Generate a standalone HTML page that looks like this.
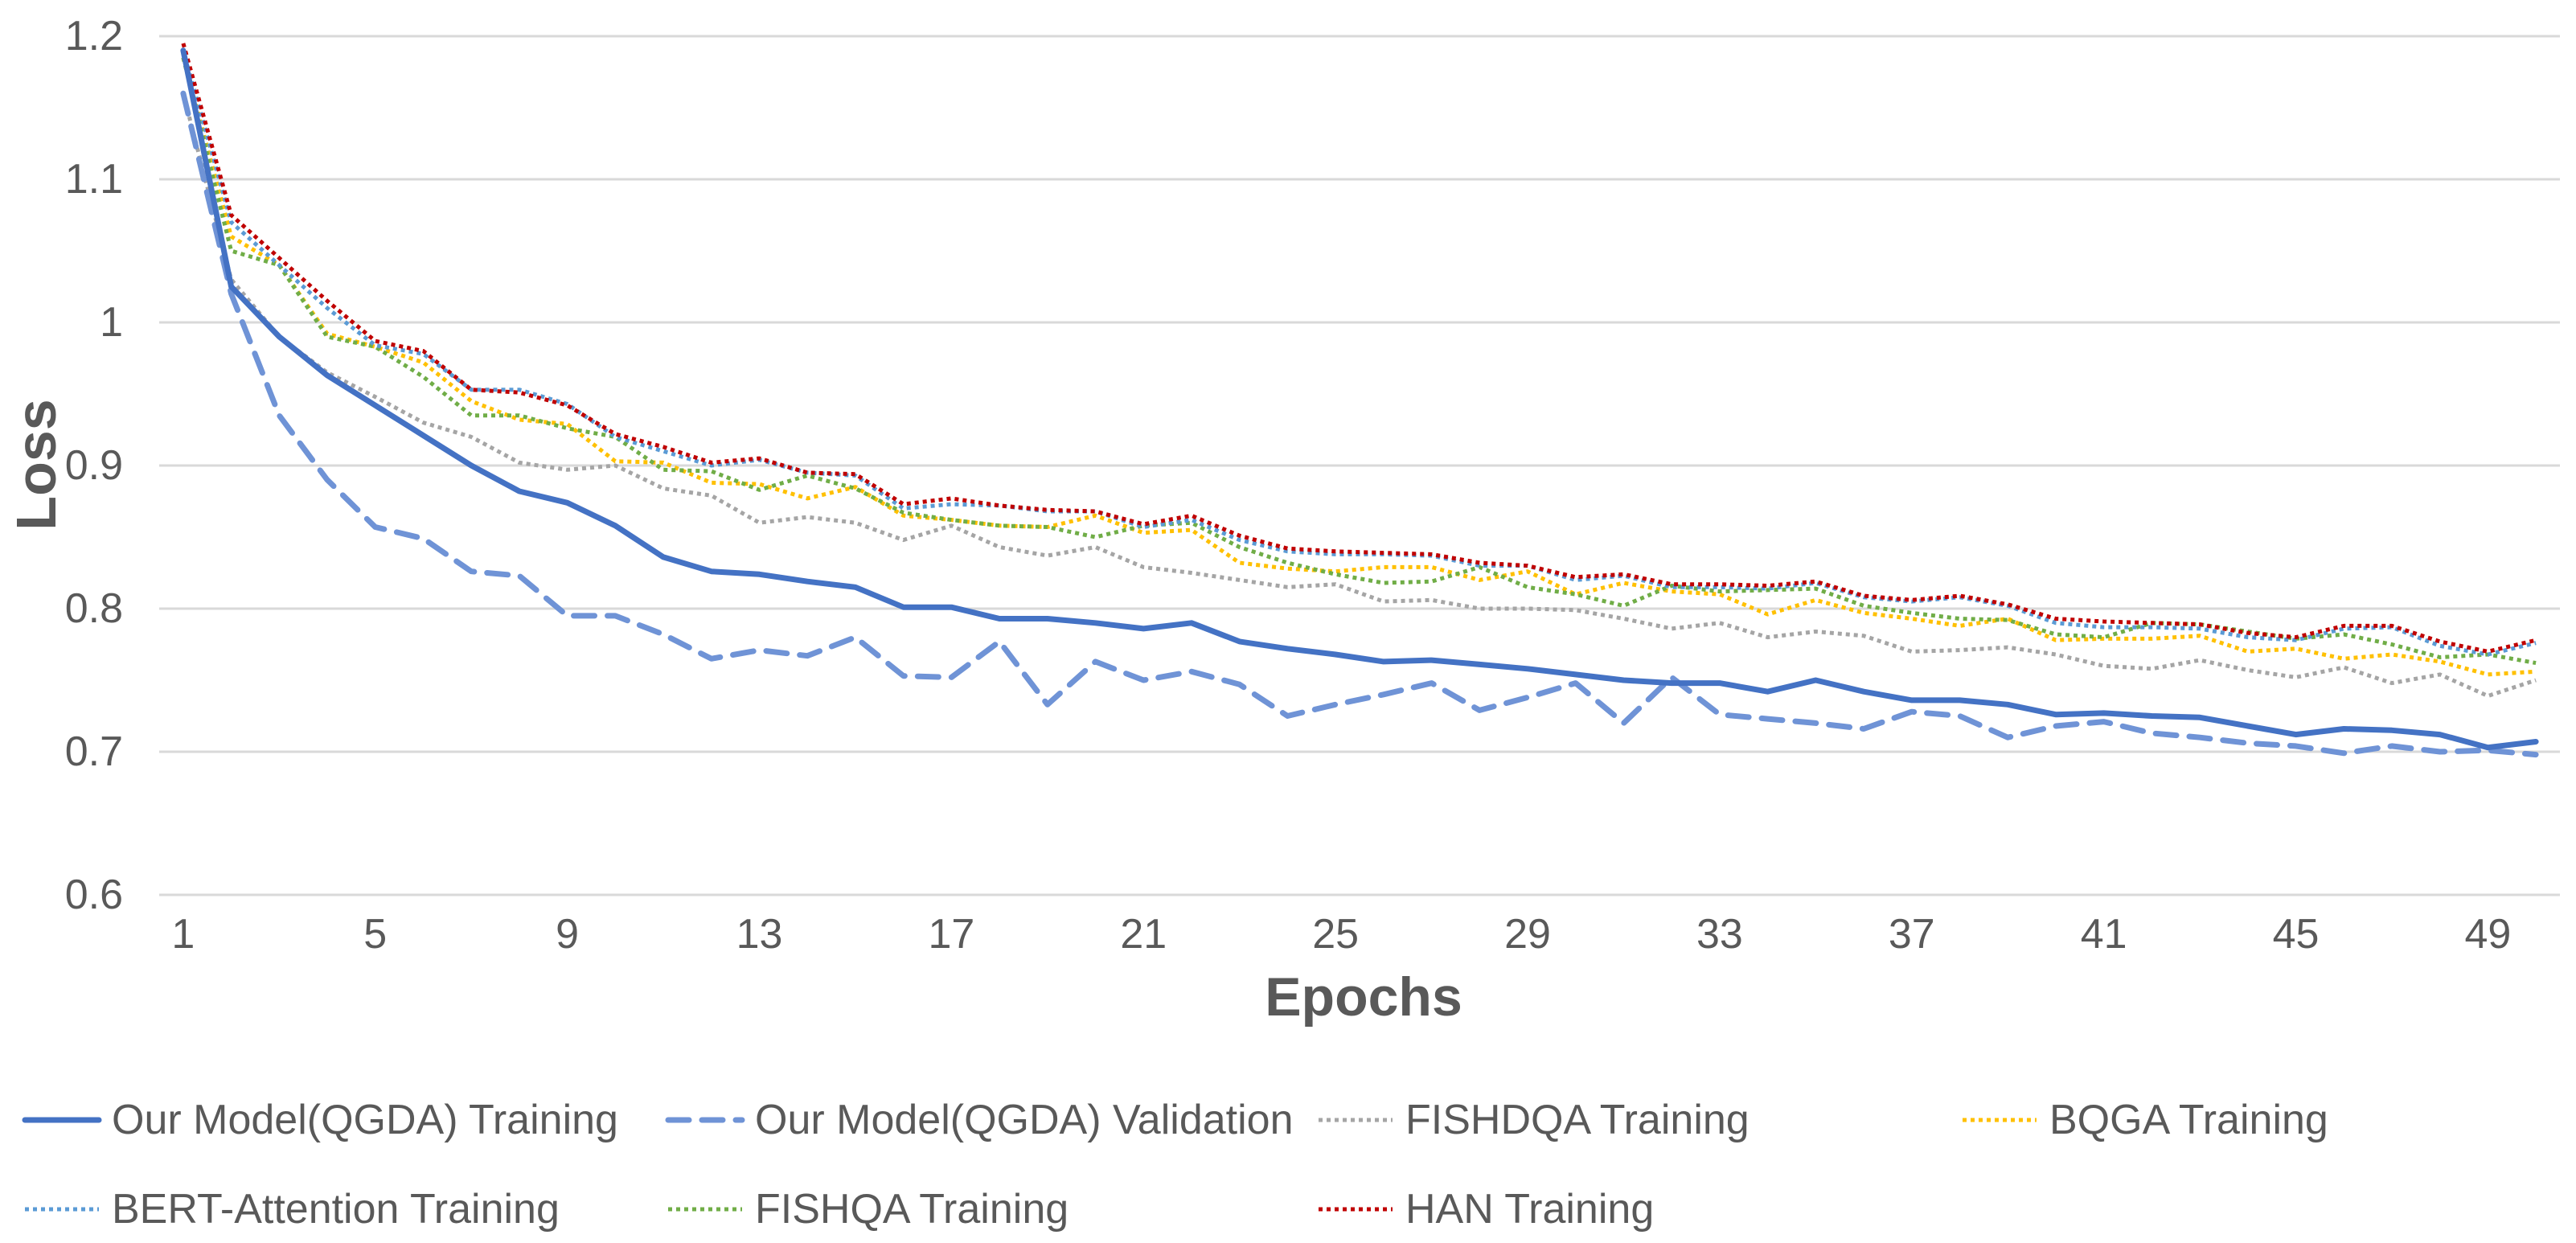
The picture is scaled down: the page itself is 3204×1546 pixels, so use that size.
<!DOCTYPE html>
<html><head><meta charset="utf-8"><style>
html,body{margin:0;padding:0;background:#fff;}
svg{display:block;font-family:"Liberation Sans",Arial,sans-serif;}
</style></head><body>
<svg id="chart" width="3204" height="1546" viewBox="0 0 3204 1546">
<g id="grid"></g>
<g id="yticks"></g>
<g id="xticks"></g>
<g id="series"></g>
<text x="45" y="578" transform="rotate(-90 45 578)" text-anchor="middle" dominant-baseline="central" font-size="70" font-weight="bold" fill="#595959">Loss</text>
<text x="1696" y="1240" text-anchor="middle" dominant-baseline="central" font-size="68" font-weight="bold" fill="#595959">Epochs</text>
<g id="legend"></g>
</svg>
<script>
const epochs = Array.from({length:50},(_,i)=>i+1);
const yTicks = [0.6,0.7,0.8,0.9,1.0,1.1,1.2];
const yTickLabels = ["0.6","0.7","0.8","0.9","1","1.1","1.2"];
const xTickLabels = [1,5,9,13,17,21,25,29,33,37,41,45,49];
const qgdaTrain = [1.19,1.025,0.99,0.963,0.942,0.921,0.9,0.882,0.874,0.858,0.836,0.826,0.824,0.819,0.815,0.801,0.801,0.793,0.793,0.79,0.786,0.79,0.777,0.772,0.768,0.763,0.764,0.761,0.758,0.754,0.75,0.748,0.748,0.742,0.75,0.742,0.736,0.736,0.733,0.726,0.727,0.725,0.724,0.718,0.712,0.716,0.715,0.712,0.703,0.707];
const qgdaVal = [1.16,1.02,0.935,0.89,0.857,0.849,0.826,0.823,0.795,0.795,0.782,0.765,0.771,0.767,0.78,0.753,0.752,0.777,0.733,0.763,0.75,0.756,0.747,0.725,0.733,0.74,0.748,0.729,0.738,0.748,0.72,0.752,0.726,0.723,0.72,0.716,0.728,0.725,0.71,0.718,0.721,0.713,0.71,0.706,0.704,0.699,0.704,0.7,0.701,0.698];
const fishdqa = [1.16,1.03,0.99,0.965,0.948,0.93,0.92,0.902,0.897,0.9,0.884,0.879,0.86,0.864,0.86,0.848,0.858,0.843,0.837,0.843,0.829,0.825,0.82,0.815,0.817,0.805,0.806,0.8,0.8,0.799,0.793,0.786,0.79,0.78,0.784,0.781,0.77,0.771,0.773,0.768,0.76,0.758,0.764,0.757,0.752,0.759,0.748,0.754,0.739,0.75];
const bqga = [1.185,1.06,1.04,0.992,0.983,0.972,0.945,0.932,0.929,0.903,0.902,0.888,0.887,0.877,0.885,0.865,0.862,0.858,0.857,0.865,0.853,0.855,0.832,0.828,0.826,0.829,0.829,0.82,0.826,0.81,0.818,0.812,0.81,0.796,0.806,0.797,0.793,0.788,0.793,0.778,0.779,0.779,0.781,0.77,0.772,0.765,0.768,0.763,0.754,0.756];
const bertAtt = [1.19,1.07,1.04,1.01,0.984,0.978,0.953,0.953,0.943,0.92,0.91,0.9,0.904,0.895,0.893,0.87,0.873,0.872,0.868,0.868,0.857,0.862,0.848,0.84,0.838,0.838,0.837,0.83,0.83,0.82,0.823,0.815,0.815,0.814,0.818,0.808,0.805,0.808,0.802,0.79,0.787,0.787,0.786,0.78,0.778,0.786,0.787,0.774,0.768,0.776];
const fishqa = [1.185,1.05,1.04,0.99,0.983,0.962,0.935,0.935,0.926,0.92,0.897,0.896,0.883,0.893,0.884,0.867,0.862,0.858,0.857,0.85,0.858,0.86,0.843,0.832,0.824,0.818,0.819,0.829,0.815,0.81,0.802,0.816,0.812,0.813,0.814,0.802,0.797,0.793,0.792,0.782,0.78,0.79,0.789,0.784,0.779,0.782,0.775,0.766,0.768,0.762];
const han = [1.195,1.075,1.045,1.015,0.987,0.98,0.953,0.951,0.942,0.922,0.913,0.902,0.905,0.895,0.894,0.873,0.877,0.872,0.869,0.868,0.859,0.865,0.851,0.842,0.84,0.839,0.838,0.832,0.83,0.822,0.824,0.817,0.817,0.816,0.819,0.809,0.806,0.809,0.803,0.793,0.791,0.79,0.789,0.783,0.78,0.788,0.788,0.777,0.77,0.778];
const seriesNames = ["Our Model(QGDA) Training","Our Model(QGDA) Validation","FISHDQA Training","BQGA Training","BERT-Attention Training","FISHQA Training","HAN Training"];

const NS="http://www.w3.org/2000/svg";
const L=198, R=3184, yTop=45, yBot=1113, yMin=0.6, yMax=1.2;
const step=(R-L)/50;
const xs=e=>L+(e-0.5)*step;
const ys=v=>yBot-(v-yMin)/(yMax-yMin)*(yBot-yTop);
function mk(tag,attrs,parent){const el=document.createElementNS(NS,tag);for(const k in attrs)el.setAttribute(k,attrs[k]);parent.appendChild(el);return el;}
const grid=document.getElementById('grid'),yt=document.getElementById('yticks'),xt=document.getElementById('xticks'),sg=document.getElementById('series'),lg=document.getElementById('legend');
yTicks.forEach((v,i)=>{
  const ln=mk('line',{x1:L,x2:R,y1:ys(v),y2:ys(v),stroke:'#D9D9D9','stroke-width':3},grid);
  
  
  const t=mk('text',{x:153,y:ys(v),'text-anchor':'end','dominant-baseline':'central','font-size':52,fill:'#595959'},yt);
  t.textContent=yTickLabels[i];
  
  
});
xTickLabels.forEach(e=>{
  const t=mk('text',{x:xs(e),y:1162,'text-anchor':'middle','dominant-baseline':'central','font-size':52,fill:'#595959'},xt);
  t.textContent=e;
  
  
});
const styles=[
 {data:qgdaTrain,c:'#4472C4',w:7,d:'',cap:'round'},
 {data:qgdaVal,c:'#6F93D6',w:7,d:'26 16',cap:'round'},
 {data:fishdqa,c:'#A5A5A5',w:5,d:'5 5',cap:'butt'},
 {data:bqga,c:'#FFC000',w:5,d:'5 5',cap:'butt'},
 {data:bertAtt,c:'#5B9BD5',w:5,d:'5 5',cap:'butt'},
 {data:fishqa,c:'#70AD47',w:5,d:'5 5',cap:'butt'},
 {data:han,c:'#C00000',w:5,d:'5 5',cap:'butt'}
];
const drawOrder=[2,3,5,4,6,1,0];
drawOrder.forEach(i=>{
  const s=styles[i];
  const pts=s.data.map((v,j)=>xs(epochs[j]).toFixed(1)+','+ys(v).toFixed(1)).join(' ');
  const p=mk('polyline',{points:pts,fill:'none',stroke:s.c,'stroke-width':s.w,'stroke-dasharray':s.d,'stroke-linecap':s.cap,'stroke-linejoin':'round'},sg);
  
  
});
const legPos=[[31,1393],[831,1393],[1640,1393],[2441,1393],[31,1504],[831,1504],[1640,1504]];
styles.forEach((s,i)=>{
  const [x,y]=legPos[i];
  const g=mk('g',{},lg);
  
  
  mk('line',{x1:x,x2:x+92,y1:y,y2:y,stroke:s.c,'stroke-width':s.w,'stroke-dasharray':s.d,'stroke-linecap':s.cap},g);
  const t=mk('text',{x:x+108,y:y,'dominant-baseline':'central','font-size':52,fill:'#595959'},g);
  t.textContent=seriesNames[i];
});
</script>
</body></html>
